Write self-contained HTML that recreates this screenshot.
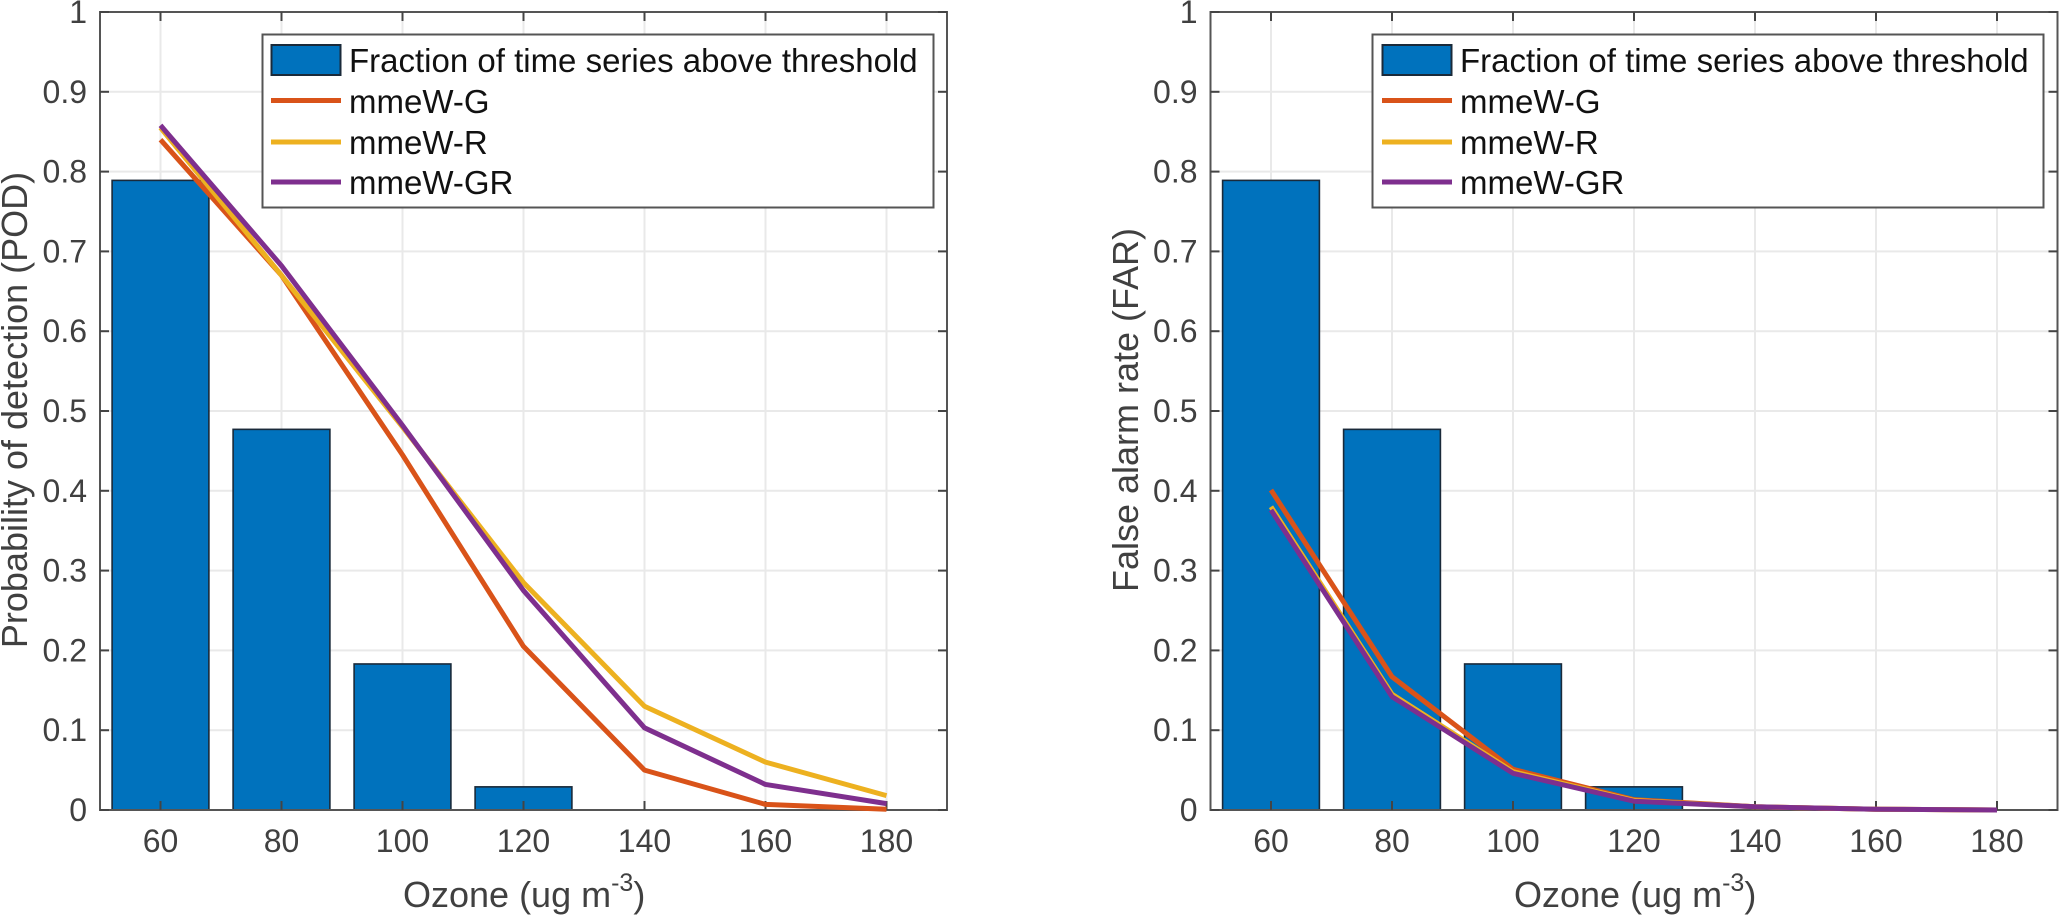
<!DOCTYPE html>
<html>
<head>
<meta charset="utf-8">
<title>Ozone POD and FAR</title>
<style>
html,body{margin:0;padding:0;background:#fff;width:2067px;height:917px;overflow:hidden}
svg{display:block;font-family:"Liberation Sans",Arial,sans-serif}
.tick{fill:#404040;font-size:32px}
.axlab{fill:#404040;font-size:36px}
.leg{fill:#111;font-size:33px}
</style>
</head>
<body>
<svg id="chart" width="2067" height="917" viewBox="0 0 2067 917" xmlns="http://www.w3.org/2000/svg">
  <g id="panel-left"></g>
  <g id="panel-right"></g>

  <text class="axlab" transform="translate(27,410) rotate(-90)" text-anchor="middle">Probability of detection (POD)</text>
  <text class="axlab" x="403" y="907">Ozone (ug m<tspan font-size="25" dy="-16">-3</tspan><tspan dy="16">)</tspan></text>
  <text class="axlab" transform="translate(1138,410) rotate(-90)" text-anchor="middle">False alarm rate (FAR)</text>
  <text class="axlab" x="1514" y="907">Ozone (ug m<tspan font-size="25" dy="-16">-3</tspan><tspan dy="16">)</tspan></text>

  <g>
    <rect x="262.5" y="34.5" width="671" height="173" fill="#fff" stroke="#555" stroke-width="2"/>
    <rect x="271.5" y="45" width="69" height="30" fill="#0072BD" stroke="#1a2a3a" stroke-width="2"/>
    <line x1="271" x2="341" y1="100.5" y2="100.5" stroke="#D95319" stroke-width="5"/>
    <line x1="271" x2="341" y1="142" y2="142" stroke="#EDB120" stroke-width="5"/>
    <line x1="271" x2="341" y1="182" y2="182" stroke="#7E2F8E" stroke-width="5"/>
    <text class="leg" x="349" y="72">Fraction of time series above threshold</text>
    <text class="leg" x="349" y="113">mmeW-G</text>
    <text class="leg" x="349" y="154">mmeW-R</text>
    <text class="leg" x="349" y="194">mmeW-GR</text>
  </g>

  <g>
    <rect x="1372.5" y="34.5" width="671" height="173" fill="#fff" stroke="#555" stroke-width="2"/>
    <rect x="1382.5" y="45" width="69" height="30" fill="#0072BD" stroke="#1a2a3a" stroke-width="2"/>
    <line x1="1382" x2="1452" y1="100.5" y2="100.5" stroke="#D95319" stroke-width="5"/>
    <line x1="1382" x2="1452" y1="142" y2="142" stroke="#EDB120" stroke-width="5"/>
    <line x1="1382" x2="1452" y1="182" y2="182" stroke="#7E2F8E" stroke-width="5"/>
    <text class="leg" x="1460" y="72">Fraction of time series above threshold</text>
    <text class="leg" x="1460" y="113">mmeW-G</text>
    <text class="leg" x="1460" y="154">mmeW-R</text>
    <text class="leg" x="1460" y="194">mmeW-GR</text>
  </g>
</svg>
<script>
const ozoneLevels = [60, 80, 100, 120, 140, 160, 180];
const fractionAbove = [0.789, 0.477, 0.183, 0.029, 0, 0, 0];
const podG = [0.840, 0.670, 0.445, 0.205, 0.050, 0.007, 0.001];
const podR = [0.855, 0.670, 0.480, 0.285, 0.130, 0.060, 0.018];
const podGR = [0.858, 0.682, 0.482, 0.275, 0.103, 0.032, 0.008];
const farG = [0.401, 0.167, 0.051, 0.013, 0.004, 0.001, 0.000];
const farR = [0.380, 0.145, 0.048, 0.012, 0.004, 0.001, 0.000];
const farGR = [0.376, 0.142, 0.046, 0.011, 0.004, 0.001, 0.000];
const yTickLabels = ['0', '0.1', '0.2', '0.3', '0.4', '0.5', '0.6', '0.7', '0.8', '0.9', '1'];
const xTickLabels = ['60', '80', '100', '120', '140', '160', '180'];

const NS = 'http://www.w3.org/2000/svg';

function addLine(parent, x1, y1, x2, y2, color, width) {
  const el = document.createElementNS(NS, 'line');
  el.setAttribute('x1', x1);
  el.setAttribute('y1', y1);
  el.setAttribute('x2', x2);
  el.setAttribute('y2', y2);
  el.setAttribute('stroke', color);
  el.setAttribute('stroke-width', width);
  parent.appendChild(el);
  return el;
}

function drawPanel(groupId, left, seriesG, seriesR, seriesGR) {
  const group = document.getElementById(groupId);
  const right = left + 847;
  const top = 12;
  const bottom = 810;
  const xScale = function (v) { return left + (v - 50) / 140 * (right - left); };
  const yScale = function (v) { return bottom - v * (bottom - top); };

  yTickLabels.forEach(function (label) {
    const y = yScale(parseFloat(label));
    const grid = addLine(group, left, y, right, y, '#e9e9e9', 2);
    
    
  });
  xTickLabels.forEach(function (label) {
    const x = xScale(parseFloat(label));
    const grid = addLine(group, x, top, x, bottom, '#e9e9e9', 2);
    
    
  });

  fractionAbove.forEach(function (value, i) {
    if (value <= 0) { return; }
    const bar = document.createElementNS(NS, 'rect');
    const x0 = xScale(ozoneLevels[i] - 8);
    const x1 = xScale(ozoneLevels[i] + 8);
    bar.setAttribute('x', x0);
    bar.setAttribute('y', yScale(value));
    bar.setAttribute('width', x1 - x0);
    bar.setAttribute('height', bottom - yScale(value));
    bar.setAttribute('fill', '#0072BD');
    bar.setAttribute('stroke', '#1a2a3a');
    bar.setAttribute('stroke-width', 1.6);
    
    
    group.appendChild(bar);
  });

  const frame = document.createElementNS(NS, 'rect');
  frame.setAttribute('x', left);
  frame.setAttribute('y', top);
  frame.setAttribute('width', right - left);
  frame.setAttribute('height', bottom - top);
  frame.setAttribute('fill', 'none');
  frame.setAttribute('stroke', '#555');
  frame.setAttribute('stroke-width', 2);
  
  
  group.appendChild(frame);

  xTickLabels.forEach(function (label) {
    const x = xScale(parseFloat(label));
    const t1 = addLine(group, x, bottom, x, bottom - 9, '#444', 2);
    
    
    const t2 = addLine(group, x, top, x, top + 9, '#444', 2);
    
    
    const text = document.createElementNS(NS, 'text');
    text.setAttribute('x', x);
    text.setAttribute('y', 852);
    text.setAttribute('text-anchor', 'middle');
    text.setAttribute('class', 'tick');
    
    
    text.textContent = label;
    group.appendChild(text);
  });

  yTickLabels.forEach(function (label) {
    const y = yScale(parseFloat(label));
    const t1 = addLine(group, left, y, left + 9, y, '#444', 2);
    
    
    const t2 = addLine(group, right, y, right - 9, y, '#444', 2);
    
    
    const text = document.createElementNS(NS, 'text');
    text.setAttribute('x', left - 13);
    text.setAttribute('y', y + 11);
    text.setAttribute('text-anchor', 'end');
    text.setAttribute('class', 'tick');
    
    
    text.textContent = label;
    group.appendChild(text);
  });

  const seriesList = [
    { name: 'line-mmew-g', values: seriesG, color: '#D95319' },
    { name: 'line-mmew-r', values: seriesR, color: '#EDB120' },
    { name: 'line-mmew-gr', values: seriesGR, color: '#7E2F8E' }
  ];
  seriesList.forEach(function (series) {
    const path = document.createElementNS(NS, 'polyline');
    const pts = series.values.map(function (v, i) {
      return xScale(ozoneLevels[i]) + ',' + yScale(v);
    }).join(' ');
    path.setAttribute('points', pts);
    path.setAttribute('fill', 'none');
    path.setAttribute('stroke', series.color);
    path.setAttribute('stroke-width', 5);
    path.setAttribute('stroke-linejoin', 'round');
    
    
    group.appendChild(path);
  });
}

drawPanel('panel-left', 100, podG, podR, podGR);
drawPanel('panel-right', 1210.5, farG, farR, farGR);
</script>
</body>
</html>
